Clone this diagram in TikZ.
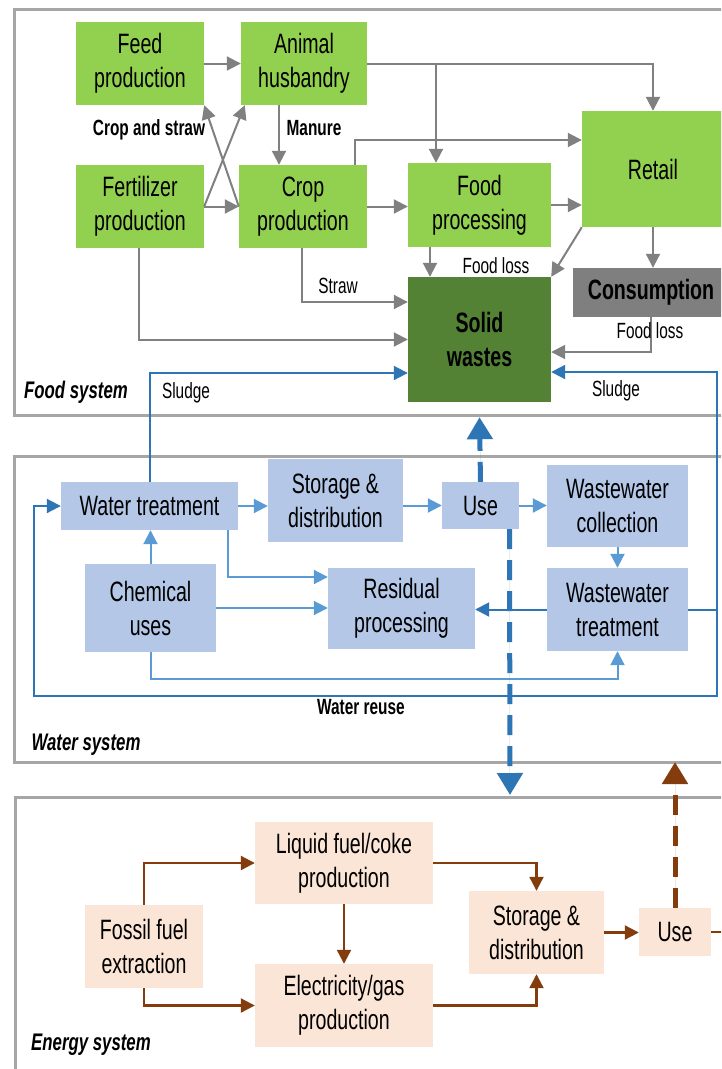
\documentclass[tikz,border=0pt]{standalone}
\usepackage{fontspec}
\setmainfont[FakeStretch=0.7]{Liberation Sans}
\usetikzlibrary{arrows.meta}

\definecolor{leaf}{HTML}{92D050}
\definecolor{moss}{HTML}{548235}
\definecolor{slate}{HTML}{7F7F7F}
\definecolor{pale}{HTML}{B4C7E7}
\definecolor{peach}{HTML}{FBE5D6}
\definecolor{frame}{HTML}{A6A6A6}
\definecolor{ash}{HTML}{808080}
\definecolor{sky}{HTML}{5B9BD5}
\definecolor{deep}{HTML}{2E75B6}
\definecolor{rust}{HTML}{843C0C}

\newcommand\bxfont{\fontsize{28}{34}\selectfont}
\newcommand\lbfont{\fontsize{22}{26}\selectfont}
\newcommand\sysfont{\fontsize{24}{28}\selectfont\bfseries\itshape}

\begin{document}
\begin{tikzpicture}[x=1pt,y=-1pt,
  every node/.style={inner sep=0pt, align=center, text=black},
  panel/.style={draw=frame, line width=3pt},
  foodbox/.style={fill=leaf, font=\bxfont},
  waterbox/.style={fill=pale, font=\bxfont},
  energybox/.style={fill=peach, font=\bxfont},
  lbl/.style={font=\lbfont, anchor=base},
  blbl/.style={font=\lbfont\bfseries, anchor=base},
  syslbl/.style={font=\sysfont, anchor=base},
  tip/.style={-{Triangle[length=14pt,width=14pt]}},
  garrow/.style={tip, draw=ash, line width=2pt},
  gline/.style={draw=ash, line width=2pt},
  larrow/.style={tip, draw=sky, line width=2pt},
  darrow/.style={tip, draw=deep, line width=2pt},
  dline/.style={draw=deep, line width=2pt},
  barrow/.style={tip, draw=rust, line width=2.2pt},
  bline/.style={draw=rust, line width=2.2pt},
  dashlink/.style={line width=5pt, dash pattern=on 20pt off 11pt,
    -{Triangle[length=22pt,width=25pt]}},
]
\useasboundingbox (0,0) rectangle (721,1069);
\clip (0,0) rectangle (721,1069);
\fill[white] (0,0) rectangle (721,1069);

% system panels
\draw[panel] (14,9) rectangle (760,415);
\draw[panel] (14,456) rectangle (760,762);
\draw[panel] (15,797) rectangle (760,1100);

% ---------------- food system ----------------
\node[foodbox, minimum width=128pt, minimum height=83pt] (feed) at (140,63.5) {Feed\\production};
\node[foodbox, minimum width=126pt, minimum height=83pt] (animal) at (304,63.5) {Animal\\husbandry};
\node[foodbox, minimum width=128pt, minimum height=83pt] (fert) at (140,206.5) {Fertilizer\\production};
\node[foodbox, minimum width=128pt, minimum height=83pt] (crop) at (303,206.5) {Crop\\production};
\node[foodbox, minimum width=143pt, minimum height=84pt] (proc) at (479.5,205) {Food\\processing};
\node[foodbox, minimum width=142pt, minimum height=116pt] (retail) at (653,169) {Retail};
\node[fill=slate, font=\bxfont\bfseries, minimum width=156pt, minimum height=49pt] (cons) at (651,292.5) {Consumption};
\node[fill=moss, font=\bxfont\bfseries, minimum width=143pt, minimum height=125pt] (solid) at (479.5,339.5) {Solid\\wastes};

\coordinate (split) at (436,63.5);
\draw[gline] (animal.east) -- (split);
\draw[garrow] (split) -| (retail.north);
\draw[garrow] (split) -- (split |- proc.north);
\draw[garrow] (feed.east) -- (animal.west);
\draw[garrow] ([xshift=-25pt]animal.south) -- ([xshift=-24pt]crop.north);
\draw[garrow] (fert.east) -- ([xshift=4pt]animal.south west);
\draw[garrow] (crop.west) -- (feed.south east);
\draw[garrow] (fert.east) -- (crop.west);
\draw[garrow] ([xshift=-12pt]crop.north east) |- ([yshift=29pt]retail.west);
\draw[garrow] (crop.east) -- (crop.east -| proc.west);
\draw[garrow] (proc.east) -- (proc.east -| retail.west);
\draw[garrow] (retail.south) -- (retail.south |- cons.north);
\draw[garrow] (retail.south west) -- (solid.north east);
\draw[garrow] ([xshift=-49.5pt]proc.south) -- ([xshift=-49.5pt]solid.north);
\draw[garrow] ([xshift=-1pt]crop.south) |- ([yshift=37.5pt]solid.west);
\draw[garrow] ([xshift=-1pt]fert.south) |- (solid.west);
\draw[garrow] (cons.south) |- ([yshift=-12.5pt]solid.east);

\node[blbl] (lcrop) at (149,135) {Crop and straw};
\node[blbl] (lmanure) at (314,135) {Manure};
\node[lbl] (lstraw) at (338,293) {Straw};
\node[lbl] (lloss1) at (496,273) {Food loss};
\node[lbl] (lloss2) at (650,338) {Food loss};
\node[lbl] (lsludge1) at (186,398) {Sludge};
\node[lbl] (lsludge2) at (616,396) {Sludge};
\node[syslbl] (lfood) at (76,398) {Food system};

% ---------------- water system ----------------
\node[waterbox, minimum width=177pt, minimum height=48pt] (wtreat) at (149.5,506) {Water treatment};
\node[waterbox, minimum width=135pt, minimum height=83pt] (store) at (335.5,500.5) {Storage \&\\distribution};
\node[waterbox, minimum width=77pt, minimum height=47pt] (wuse) at (480.5,505.5) {Use};
\node[waterbox, minimum width=141pt, minimum height=82pt] (wwcoll) at (617.5,506) {Wastewater\\collection};
\node[waterbox, minimum width=141pt, minimum height=83pt] (wwtreat) at (617.5,609.5) {Wastewater\\treatment};
\node[waterbox, minimum width=131pt, minimum height=88pt] (chem) at (150.5,608) {Chemical\\uses};
\node[waterbox, minimum width=147pt, minimum height=81pt] (resid) at (401.5,608.5) {Residual\\processing};

\coordinate (rtop) at (717,372);
\coordinate (rbot) at (717,696);
\coordinate (lbot) at (34,696);

\draw[larrow] (wtreat.east) -- (wtreat.east -| store.west);
\draw[larrow] (store.east |- wuse.west) -- (wuse.west);
\draw[larrow] (wuse.east) -- (wuse.east -| wwcoll.west);
\draw[larrow] (wwcoll.south) -- (wwtreat.north);
\draw[larrow] (chem.north) -- (chem.north |- wtreat.south);
\draw[larrow] ([xshift=78.5pt]wtreat.south) |- ([yshift=31.5pt]resid.west);
\draw[larrow] (chem.east) -- (chem.east -| resid.west);
\draw[larrow] (chem.south) -- ++(0,27) -| (wwtreat.south);
\draw[darrow] (wwtreat.west) -- (wwtreat.west -| resid.east);
\draw[darrow] (wtreat.north) |- ([yshift=-33.5pt]solid.west);
\draw[dline] (wwtreat.east) -- (wwtreat.east -| rtop);
\draw[darrow] (wwtreat.east -| rtop) -- (rtop) -- (rtop -| solid.east);
\draw[darrow] (wwtreat.east -| rtop) -- (rbot) -- (lbot) |- (wtreat.west);

\node[blbl] (lreuse) at (361,714) {Water reuse};
\node[syslbl] (lwater) at (86,750) {Water system};

% ---------------- energy system ----------------
\node[energybox, minimum width=118pt, minimum height=83pt] (fossil) at (144,946.5) {Fossil fuel\\extraction};
\node[energybox, minimum width=178pt, minimum height=82pt] (liquid) at (344,863) {Liquid fuel/coke\\production};
\node[energybox, minimum width=178pt, minimum height=83pt] (elec) at (344,1005.5) {Electricity/gas\\production};
\node[energybox, minimum width=135pt, minimum height=83pt] (estore) at (536.5,932.5) {Storage \&\\distribution};
\node[energybox, minimum width=72pt, minimum height=48pt] (euse) at (675,932) {Use};

\coordinate (eout) at (730,932);
\draw[barrow] (fossil.north) |- (liquid.west);
\draw[barrow] (fossil.south) |- (elec.west);
\draw[barrow] (liquid.south) -- (elec.north);
\draw[barrow] (liquid.east) -| (estore.north);
\draw[barrow] (elec.east) -| (estore.south);
\draw[barrow] (estore.east) -- (estore.east -| euse.west);
\draw[bline] (euse.east) -- (eout);

\node[syslbl] (lenergy) at (91,1050) {Energy system};

% links between systems
\coordinate (wsink) at (510,795);
\coordinate (esink) at (675,762);
\draw[dashlink, draw=deep, fill=deep] (wuse.north) -- ([yshift=-15pt]solid.south);
\draw[dashlink, draw=deep, fill=deep] ([xshift=29pt]wuse.south) -- (wsink);
\draw[dashlink, draw=rust, fill=rust] (euse.north) -- (esink);
\end{tikzpicture}
\end{document}
